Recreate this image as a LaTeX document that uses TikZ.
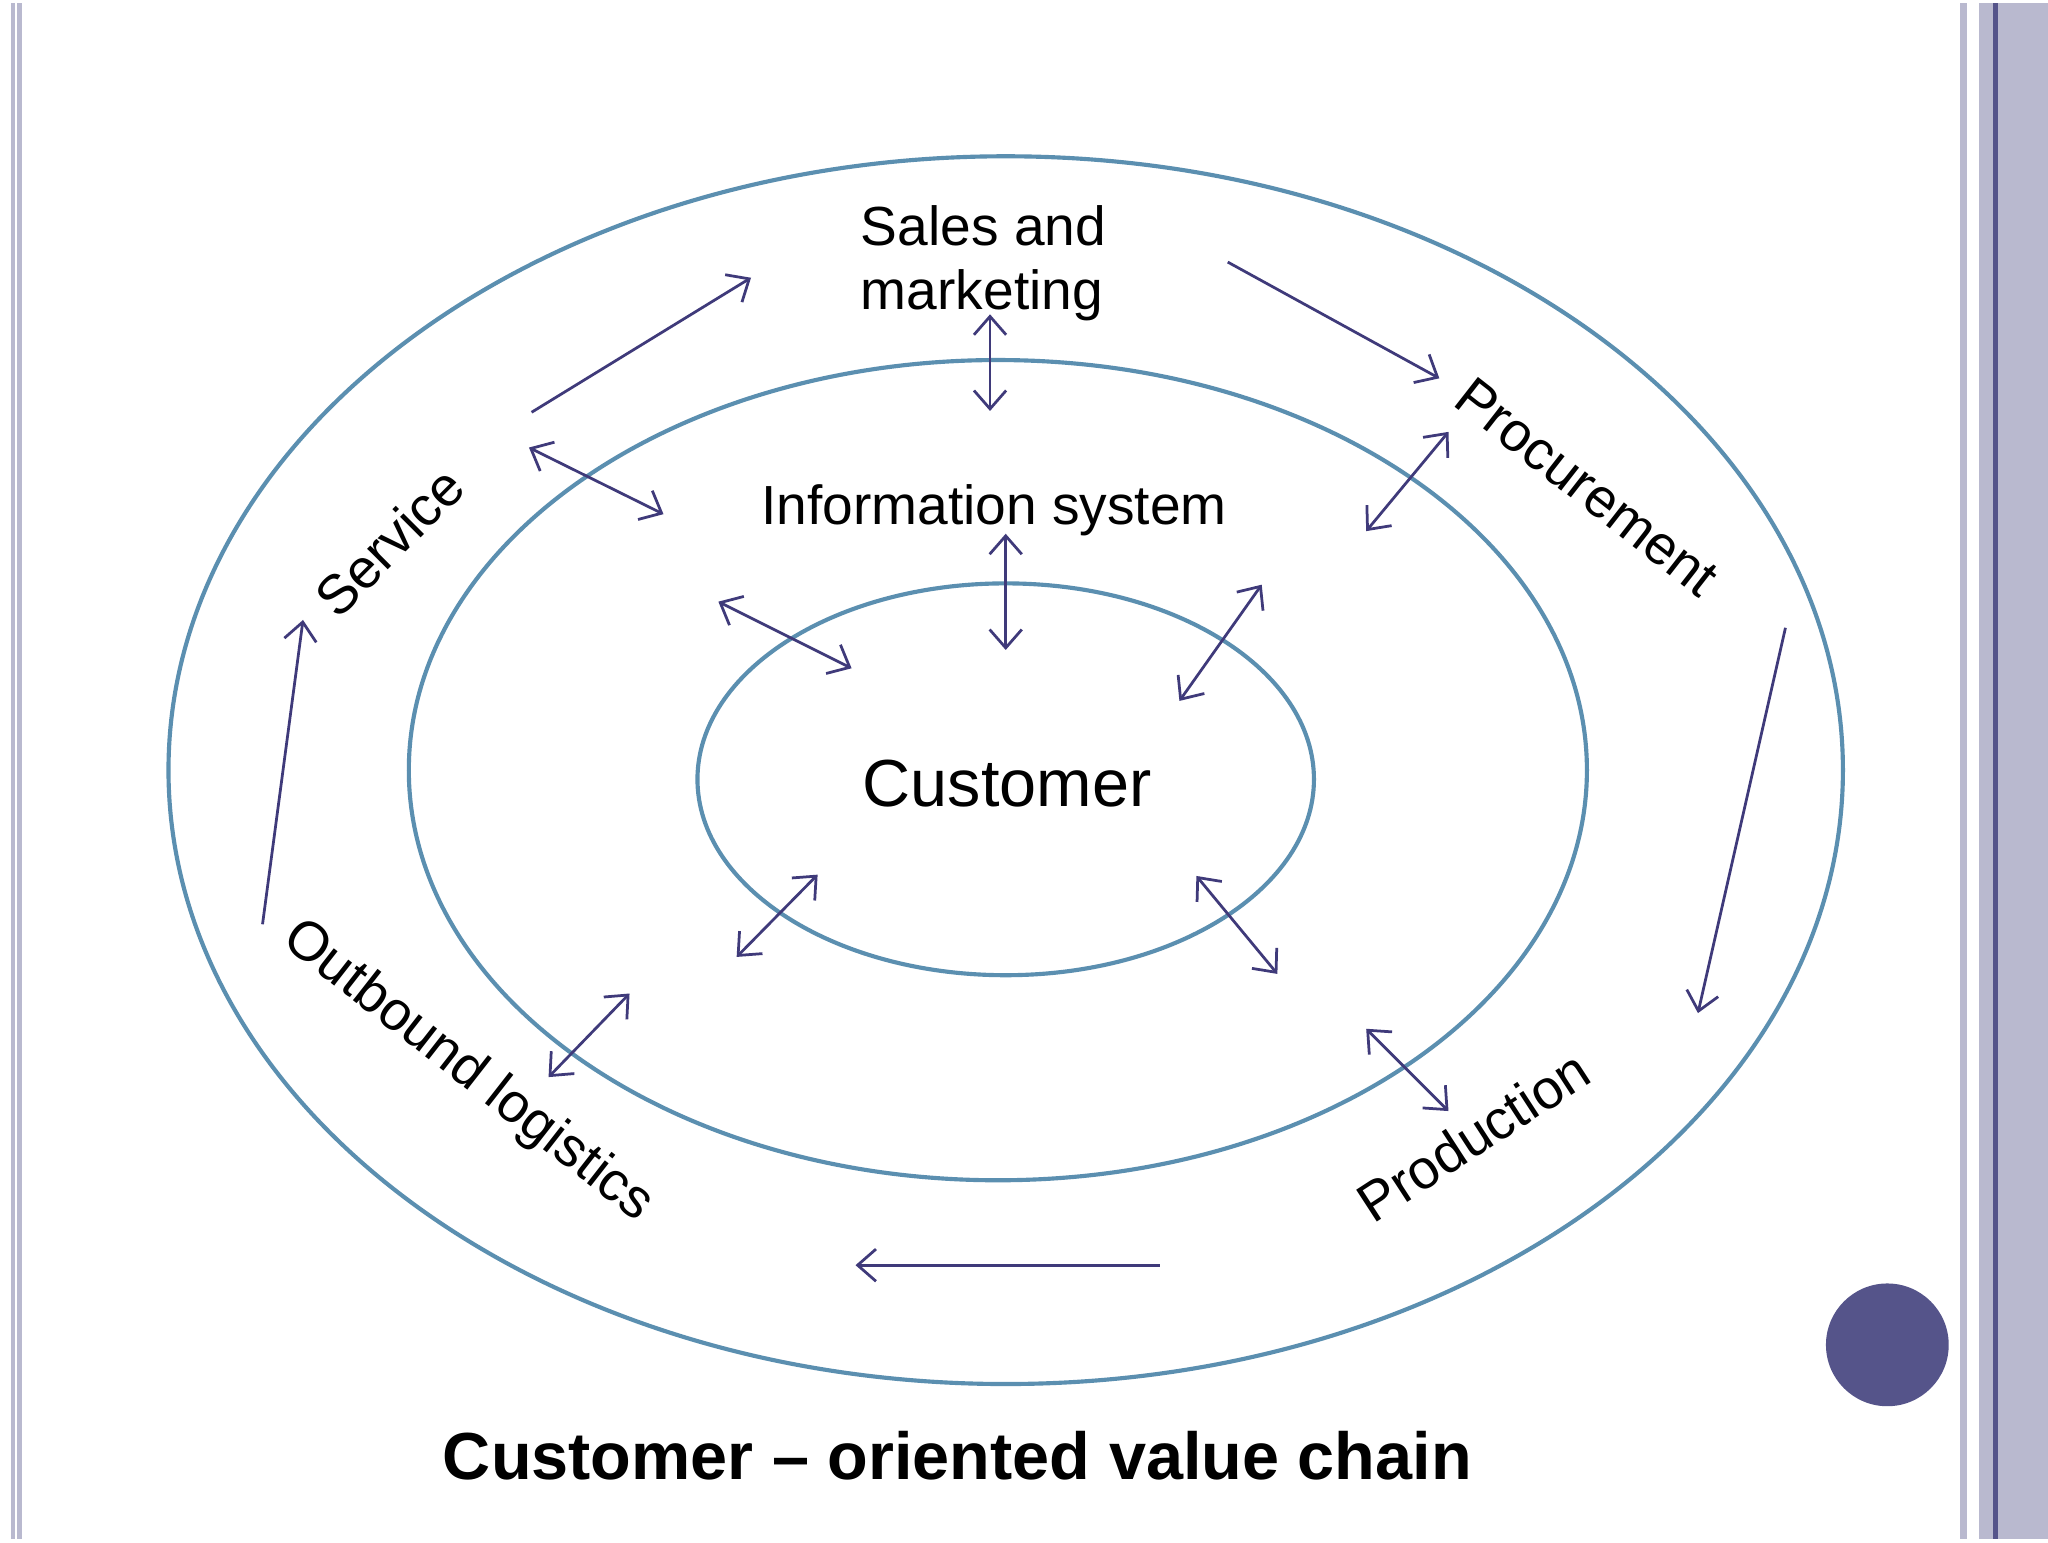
\documentclass[tikz,border=0pt]{standalone}
\usepackage{fontspec}
\setmainfont{Liberation Sans}
\usetikzlibrary{arrows.meta}
\definecolor{ring}{HTML}{5B8FB0}
\definecolor{arr}{HTML}{3F3A7A}
\definecolor{band}{HTML}{B9B9CF}
\definecolor{dot}{HTML}{55548A}
\begin{document}
\begin{tikzpicture}[x=0.01cm,y=-0.01cm,
  ring/.style={draw=ring,line width=0.9pt},
  flow/.style={draw=arr,line width=0.6pt,-{Straight Barb[length=4pt,width=7pt]}},
  both/.style={draw=arr,line width=0.6pt,{Straight Barb[length=4pt,width=7pt]}-{Straight Barb[length=4pt,width=7pt]}},
  lab/.style={font=\fontsize{12}{14}\selectfont,align=left}]
  % page and border bands
  \fill[white] (0,0) rectangle (1568,1176);
  \draw[band,line width=1pt] (10,0) -- (10,1176);
  \draw[band,line width=1pt] (15,0) -- (15,1176);
  \draw[band,line width=1.5pt] (1503,0) -- (1503,1176);
  \fill[band] (1515,0) rectangle (1568,1176);
  \draw[dot,line width=1pt] (1528,0) -- (1528,1176);
  \fill[dot] (1445,1027) circle (47);

  % Rings
  \draw[ring] (770,587) ellipse [x radius=641,y radius=470];
  \draw[ring] (764,587) ellipse [x radius=451,y radius=314];
  \draw[ring] (770,594) ellipse [x radius=236,y radius=150];

  % Labels
  \node[lab] (sales) at (753,199) {Sales and\\marketing};
  \node[lab] (info) at (761,388) {Information system};
  \node[font=\fontsize{14.5}{16}\selectfont] (cust) at (771,597) {Customer};
  \node[lab,rotate=45] (serv) at (298,412) {Service};
  \node[lab,rotate=-38] (proc) at (1215,370) {Procurement};
  \node[lab,rotate=33] (prod) at (1128,867) {Production};
  \node[lab,rotate=-38] (outb) at (358,818) {Outbound logistics};
  \node[font=\bfseries\fontsize{14.5}{16}\selectfont] (title) at (733,1112) {Customer -- oriented value chain};

  % Value chain flow
  \draw[flow] (407,313) -- (575,210);
  \draw[flow] (940,198) -- (1102,287);
  \draw[flow] (1367,478) -- (1300,773);
  \draw[flow] (888,966) -- (655,966);
  \draw[flow] (201,705) -- (232,472);

  % Links to information system and customer
  \draw[both] (758,238) -- (758,312);
  \draw[both] (405,340) -- (508,391);
  \draw[both] (1109,328) -- (1046,404);
  \draw[both] (770,406) -- (770,495);
  \draw[both] (550,458) -- (652,509);
  \draw[both] (966,445) -- (903,534);
  \draw[both] (626,667) -- (564,730);
  \draw[both] (916,668) -- (978,743);
  \draw[both] (482,758) -- (420,822);
  \draw[both] (1046,785) -- (1109,848);
\end{tikzpicture}
\end{document}
